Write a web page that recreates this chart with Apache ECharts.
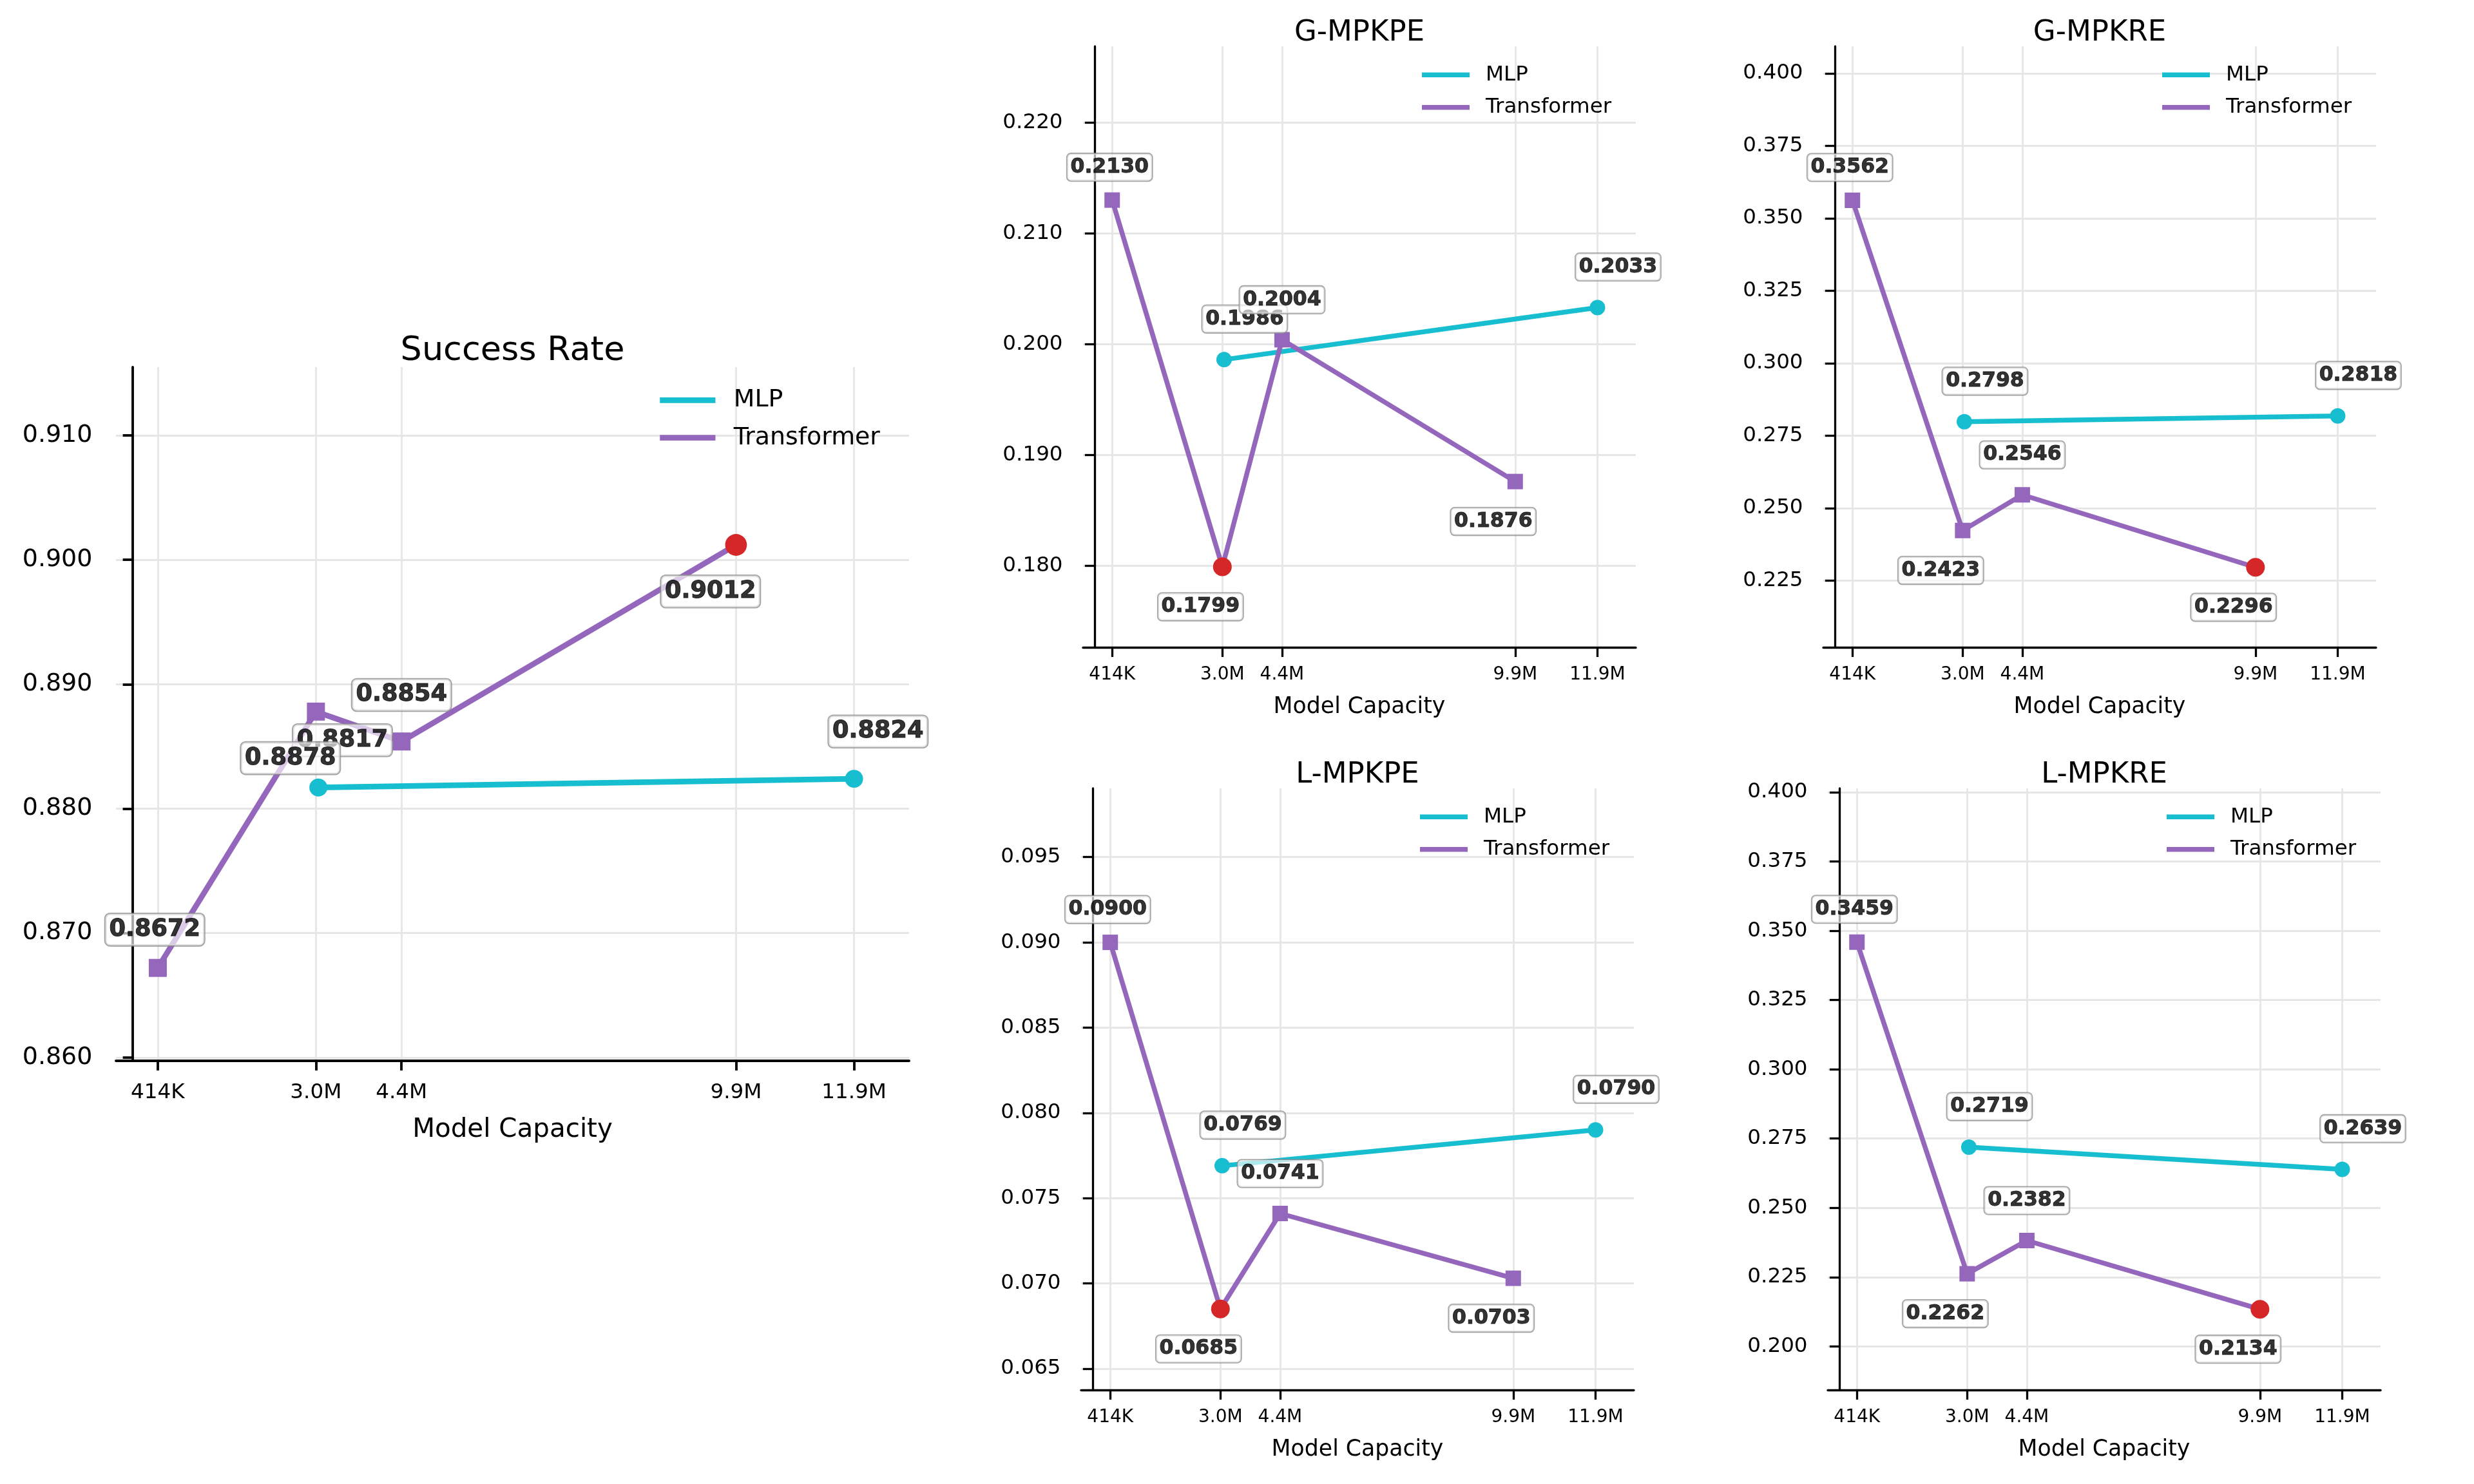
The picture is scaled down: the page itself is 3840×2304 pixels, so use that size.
<!DOCTYPE html>
<html><head><meta charset="utf-8">
<script src="https://cdn.jsdelivr.net/npm/echarts@6/dist/echarts.min.js"></script>
<style>html,body{margin:0;padding:0;background:#fff}#c{width:3840px;height:2304px}</style>
</head><body><div id="c"></div>
<script>
// ---------------- data ----------------
const capacityTickValues = [0.414, 3.0, 4.4, 9.87, 11.8];   // model size in millions (positions)
const capacityTickLabels = ['414K', '3.0M', '4.4M', '9.9M', '11.9M'];
const transformerCapacity = [0.414, 3.0, 4.4, 9.87];
const mlpCapacity = [3.04, 11.8];

const successRateMLP = [0.8817, 0.8824];
const successRateTransformer = [0.8672, 0.8878, 0.8854, 0.9012];
const gMpkpeMLP = [0.1986, 0.2033];
const gMpkpeTransformer = [0.2130, 0.1799, 0.2004, 0.1876];
const gMpkreMLP = [0.2798, 0.2818];
const gMpkreTransformer = [0.3562, 0.2423, 0.2546, 0.2296];
const lMpkpeMLP = [0.0769, 0.0790];
const lMpkpeTransformer = [0.0900, 0.0685, 0.0741, 0.0703];
const lMpkreMLP = [0.2719, 0.2639];
const lMpkreTransformer = [0.3459, 0.2262, 0.2382, 0.2134];

const successRateTicks = [0.860, 0.870, 0.880, 0.890, 0.900, 0.910];
const gMpkpeTicks = [0.180, 0.190, 0.200, 0.210, 0.220];
const gMpkreTicks = [0.225, 0.250, 0.275, 0.300, 0.325, 0.350, 0.375, 0.400];
const lMpkpeTicks = [0.065, 0.070, 0.075, 0.080, 0.085, 0.090, 0.095];
const lMpkreTicks = [0.200, 0.225, 0.250, 0.275, 0.300, 0.325, 0.350, 0.375, 0.400];

// ---------------- style / layout ----------------
const FONT = 'DejaVu Sans';
const CYAN = '#17becf', PURPLE = '#9467bd', RED = '#d62728';
const X_MIN = -0.27, X_MAX = 12.7;

const panels = [
  {title: 'Success Rate', mlp: successRateMLP, tr: successRateTransformer, ticks: successRateTicks, higherBetter: true,
   yMin: 0.85973, yMax: 0.91549, box: {left: 180, top: 570, width: 1231, height: 1077}, k: 1.165},
  {title: 'G-MPKPE', mlp: gMpkpeMLP, tr: gMpkpeTransformer, ticks: gMpkpeTicks, higherBetter: false,
   yMin: 0.17264, yMax: 0.22687, box: {left: 1681, top: 72, width: 858, height: 933}, k: 1},
  {title: 'G-MPKRE', mlp: gMpkreMLP, tr: gMpkreTransformer, ticks: gMpkreTicks, higherBetter: false,
   yMin: 0.2020, yMax: 0.4093, box: {left: 2830, top: 72, width: 858, height: 933}, k: 1},
  {title: 'L-MPKPE', mlp: lMpkpeMLP, tr: lMpkpeTransformer, ticks: lMpkpeTicks, higherBetter: false,
   yMin: 0.06375, yMax: 0.09903, box: {left: 1678, top: 1224, width: 858, height: 934}, k: 1},
  {title: 'L-MPKRE', mlp: lMpkreMLP, tr: lMpkreTransformer, ticks: lMpkreTicks, higherBetter: false,
   yMin: 0.18426, yMax: 0.4014, box: {left: 2837, top: 1224, width: 858, height: 934}, k: 1}
];

function capLabel(v) {
  let bi = 0;
  capacityTickValues.forEach((t, j) => { if (Math.abs(t - v) < Math.abs(capacityTickValues[bi] - v)) bi = j; });
  return capacityTickLabels[bi];
}

const option = {backgroundColor: '#fff', animation: false, grid: [], xAxis: [], yAxis: [], series: [], title: [], legend: []};

panels.forEach((p, i) => {
  const k = p.k, b = p.box;
  option.grid.push({left: b.left, top: b.top, width: b.width, height: b.height, containLabel: false});
  option.title.push({
    text: p.title, left: b.left + b.width / 2, top: b.top - 43.5 * k, textAlign: 'center', padding: 0,
    textStyle: {fontFamily: FONT, fontSize: 45 * k, fontWeight: 'normal', color: '#000'}
  });
  option.xAxis.push({
    type: 'value', gridIndex: i, min: X_MIN, max: X_MAX,
    name: 'Model Capacity', nameLocation: 'middle', nameGap: 75 * k,
    nameTextStyle: {fontFamily: FONT, fontSize: 34.7 * k, color: '#000'},
    axisLine: {show: true, onZero: false, lineStyle: {color: '#000', width: 3.3 * k}},
    axisTick: {show: true, customValues: capacityTickValues, length: 15, lineStyle: {color: '#000', width: 3.3 * k}},
    axisLabel: {show: true, customValues: capacityTickValues, formatter: capLabel, fontFamily: FONT, fontSize: 28 * k, color: '#000', margin: 28.5 * k},
    splitLine: {show: true, lineStyle: {color: '#e6e6e6', width: 2.8}}
  });
  option.yAxis.push({
    type: 'value', gridIndex: i, min: p.yMin, max: p.yMax,
    axisLine: {show: true, lineStyle: {color: '#000', width: 3.3 * k}},
    axisTick: {show: true, customValues: p.ticks, length: 15, lineStyle: {color: '#000', width: 3.3 * k}},
    axisLabel: {show: true, customValues: p.ticks, formatter: v => v.toFixed(3), fontFamily: FONT, fontSize: 32.6 * k, color: '#000', margin: 31.4 * k},
    splitLine: {show: true, lineStyle: {color: '#e6e6e6', width: 2.8}}
  });
  const rowH = 32.5 * k;
  option.legend.push({
    orient: 'vertical', left: b.left + b.width - 332 * k, top: b.top + 44 * k - rowH / 2,
    itemWidth: 74 * k, itemHeight: 7.5 * k, itemGap: 50 * k - rowH, icon: 'rect', padding: 0, selectedMode: false,
    data: ['MLP', 'Transformer'],
    textStyle: {fontFamily: FONT, fontSize: 32.5 * k, lineHeight: rowH, color: '#000', padding: [0, 0, 0, 20 * k]}
  });

  const all = p.mlp.concat(p.tr);
  const best = p.higherBetter ? Math.max(...all) : Math.min(...all);
  const pointItem = (x, y) => {
    const it = {value: [x, y]};
    if (y === best) { it.symbol = 'circle'; it.symbolSize = 29 * k; it.itemStyle = {color: RED}; }
    return it;
  };
  option.series.push({
    name: 'MLP', type: 'line', xAxisIndex: i, yAxisIndex: i, z: 2, silent: true,
    symbol: 'circle', symbolSize: 24 * k, showSymbol: true,
    lineStyle: {color: CYAN, width: 7.5 * k}, itemStyle: {color: CYAN},
    data: mlpCapacity.map((x, j) => pointItem(x, p.mlp[j]))
  });
  option.series.push({
    name: 'Transformer', type: 'line', xAxisIndex: i, yAxisIndex: i, z: 3, silent: true,
    symbol: 'rect', symbolSize: 24 * k, showSymbol: true,
    lineStyle: {color: PURPLE, width: 7.5 * k}, itemStyle: {color: PURPLE},
    data: transformerCapacity.map((x, j) => pointItem(x, p.tr[j]))
  });

  const labelBase = {
    show: true, position: 'inside', fontFamily: FONT, fontWeight: 'bold', fontSize: 31.5 * k, lineHeight: 34 * k,
    color: '#000', textBorderWidth: 0.9 * k, textBorderColor: '#000',
    backgroundColor: 'rgba(255,255,255,0.82)', borderColor: '#8c8c8c', borderWidth: 1.6 * k,
    borderRadius: 6 * k, padding: [4 * k, 5 * k], formatter: q => q.value[1].toFixed(4)
  };
  const labelItem = (x, y, off) => ({value: [x, y], label: {offset: [off[0] * k, off[1] * k]}});
  option.series.push({
    name: 'MLP labels', type: 'scatter', xAxisIndex: i, yAxisIndex: i, z: 10, silent: true,
    symbol: 'circle', symbolSize: 1, itemStyle: {color: 'rgba(0,0,0,0)'}, label: labelBase,
    data: mlpCapacity.map((x, j) => labelItem(x, p.mlp[j], [32, -63]))
  });
  option.series.push({
    name: 'Transformer labels', type: 'scatter', xAxisIndex: i, yAxisIndex: i, z: 11, silent: true,
    symbol: 'circle', symbolSize: 1, itemStyle: {color: 'rgba(0,0,0,0)'}, label: labelBase,
    data: transformerCapacity.map((x, j) => {
      const off = j === 0 ? [-4, -51] : (j % 2 === 1 ? [-34, 62] : [0, -62]);
      return labelItem(x, p.tr[j], off);
    })
  });
});

const chart = echarts.init(document.getElementById('c'), null, {renderer: 'canvas', width: 3840, height: 2304});
chart.setOption(option);
</script></body></html>
